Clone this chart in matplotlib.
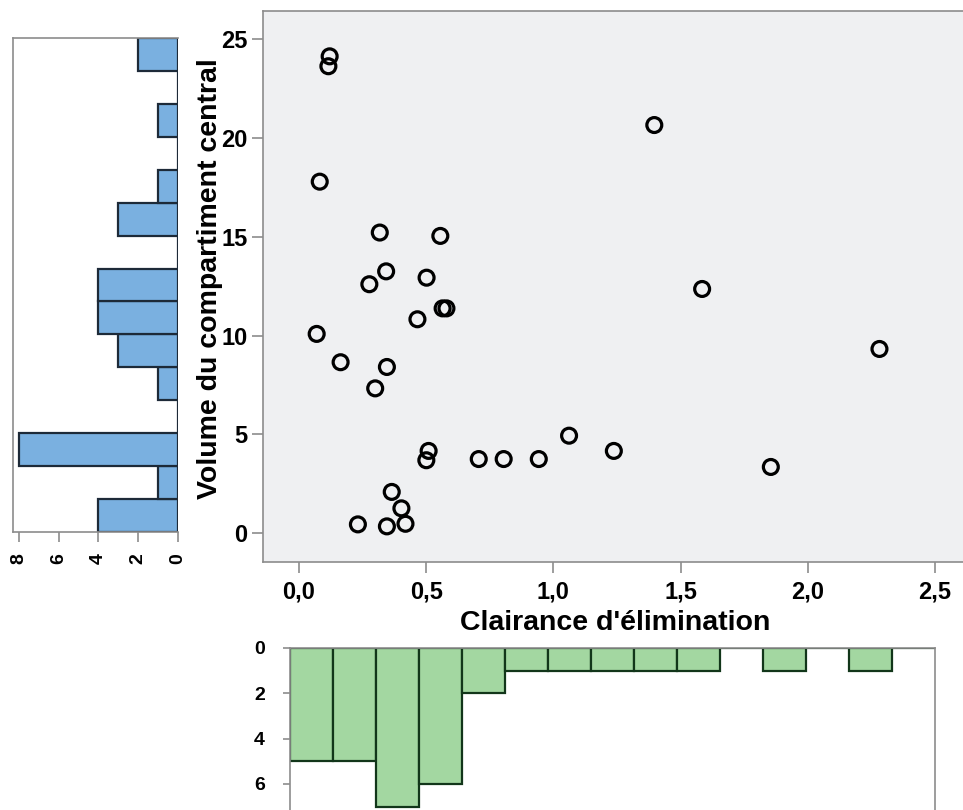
import numpy as np
import matplotlib
matplotlib.use("Agg")
import matplotlib.pyplot as plt
from matplotlib.ticker import FuncFormatter

plt.rcParams['font.family'] = ['Liberation Sans', 'DejaVu Sans']
plt.rcParams['font.weight'] = 'bold'

# scatter points
clairance = [0.121, 0.116, 0.082, 0.318, 0.556, 0.343, 0.277, 0.502, 0.565, 0.580,
             0.466, 0.070, 0.164, 0.346, 0.300, 1.062, 0.510, 0.501, 0.707, 0.805,
             0.943, 1.238, 0.365, 0.403, 0.232, 0.346, 0.419, 1.397, 1.585, 2.282,
             1.855]
volume = [24.1, 23.6, 17.77, 15.2, 15.03, 13.24, 12.59, 12.92, 11.37, 11.37,
          10.82, 10.08, 8.65, 8.41, 7.33, 4.94, 4.17, 3.70, 3.76, 3.76,
          3.76, 4.17, 2.10, 1.27, 0.46, 0.36, 0.49, 20.63, 12.35, 9.32,
          3.36]

# marginal histogram counts
volume_counts = [4, 1, 8, 0, 1, 3, 4, 4, 0, 3, 1, 0, 1, 0, 2]      # bottom -> top
clairance_counts = [5, 5, 7, 6, 2, 1, 1, 1, 1, 1, 0, 1, 0, 1, 0]   # left -> right

x_ticks = [0.0, 0.5, 1.0, 1.5, 2.0, 2.5]
y_ticks = [0, 5, 10, 15, 20, 25]
vol_hist_ticks = [8, 6, 4, 2, 0]
clr_hist_ticks = [0, 2, 4, 6]

W, H = 963, 810
fig = plt.figure(figsize=(W / 100, H / 100), dpi=100)

def box(l, t, r, b):
    return [l / W, (H - b) / H, (r - l) / W, (b - t) / H]

spine_col = '#8c8c8c'

# main scatter
ax = fig.add_axes(box(263, 11, 968, 562))
ax.set_facecolor('#eff0f2')
ax.scatter(clairance, volume, s=115, facecolors='none', edgecolors='black',
           linewidths=2.3, zorder=3)
ax.set_xlim(-0.141, 2.63)
ax.set_ylim(-1.44, 26.39)
ax.set_xticks(x_ticks)
ax.set_yticks(y_ticks)
ax.xaxis.set_major_formatter(FuncFormatter(lambda v, p: f"{v:.1f}".replace('.', ',')))
ax.tick_params(axis='both', colors=spine_col, labelcolor='black', labelsize=17,
               length=8, width=1.2)
ax.tick_params(axis='x', pad=5)
ax.tick_params(axis='y', pad=3)
for s in ['left', 'bottom', 'top']:
    ax.spines[s].set_color(spine_col)
    ax.spines[s].set_linewidth(1.2)
ax.spines['right'].set_visible(False)
ax.set_xlabel("Clairance d'élimination", fontsize=20.5, fontweight='bold')
ax.set_ylabel("Volume du compartiment central", fontsize=20.5, fontweight='bold')
ax.xaxis.set_label_coords((615 - 263) / 705, (562 - 623) / 551)
ax.xaxis.label.set_va('center')
ax.yaxis.set_label_coords((210 - 263) / 705, (562 - 279) / 551)
ax.yaxis.label.set_va('center')

# left histogram (volume)
axl = fig.add_axes(box(12.7, 38, 177.7, 532))
axl.barh(np.arange(len(volume_counts)), volume_counts, height=1, align='edge',
         color='#7ab0e0', edgecolor='#1d2a38', linewidth=1.6)
axl.set_xlim(8.33, 0)
axl.set_ylim(0, len(volume_counts))
axl.set_xticks(vol_hist_ticks)
axl.set_yticks([])
axl.tick_params(axis='x', colors=spine_col, labelcolor='black', labelsize=14,
                length=7, width=1.2, labelrotation=90, pad=8)
for s in ['left', 'bottom', 'top']:
    axl.spines[s].set_color(spine_col)
    axl.spines[s].set_linewidth(1.2)
axl.spines['right'].set_visible(False)

# bottom histogram (clairance)
axb = fig.add_axes(box(290, 648, 935, 810))
axb.bar(np.arange(len(clairance_counts)), clairance_counts, width=1, align='edge',
        color='#a3d7a1', edgecolor='#12361a', linewidth=1.6)
axb.set_xlim(0, len(clairance_counts))
axb.set_ylim(7.15, 0)
axb.set_yticks(clr_hist_ticks)
axb.set_xticks([])
axb.tick_params(axis='y', colors=spine_col, labelcolor='black', labelsize=14,
                length=5, width=1.2, pad=13)
for s in ['left', 'right', 'top']:
    axb.spines[s].set_color(spine_col)
    axb.spines[s].set_linewidth(1.2)
axb.spines['bottom'].set_visible(False)

fig.savefig('out.png', dpi=100)
